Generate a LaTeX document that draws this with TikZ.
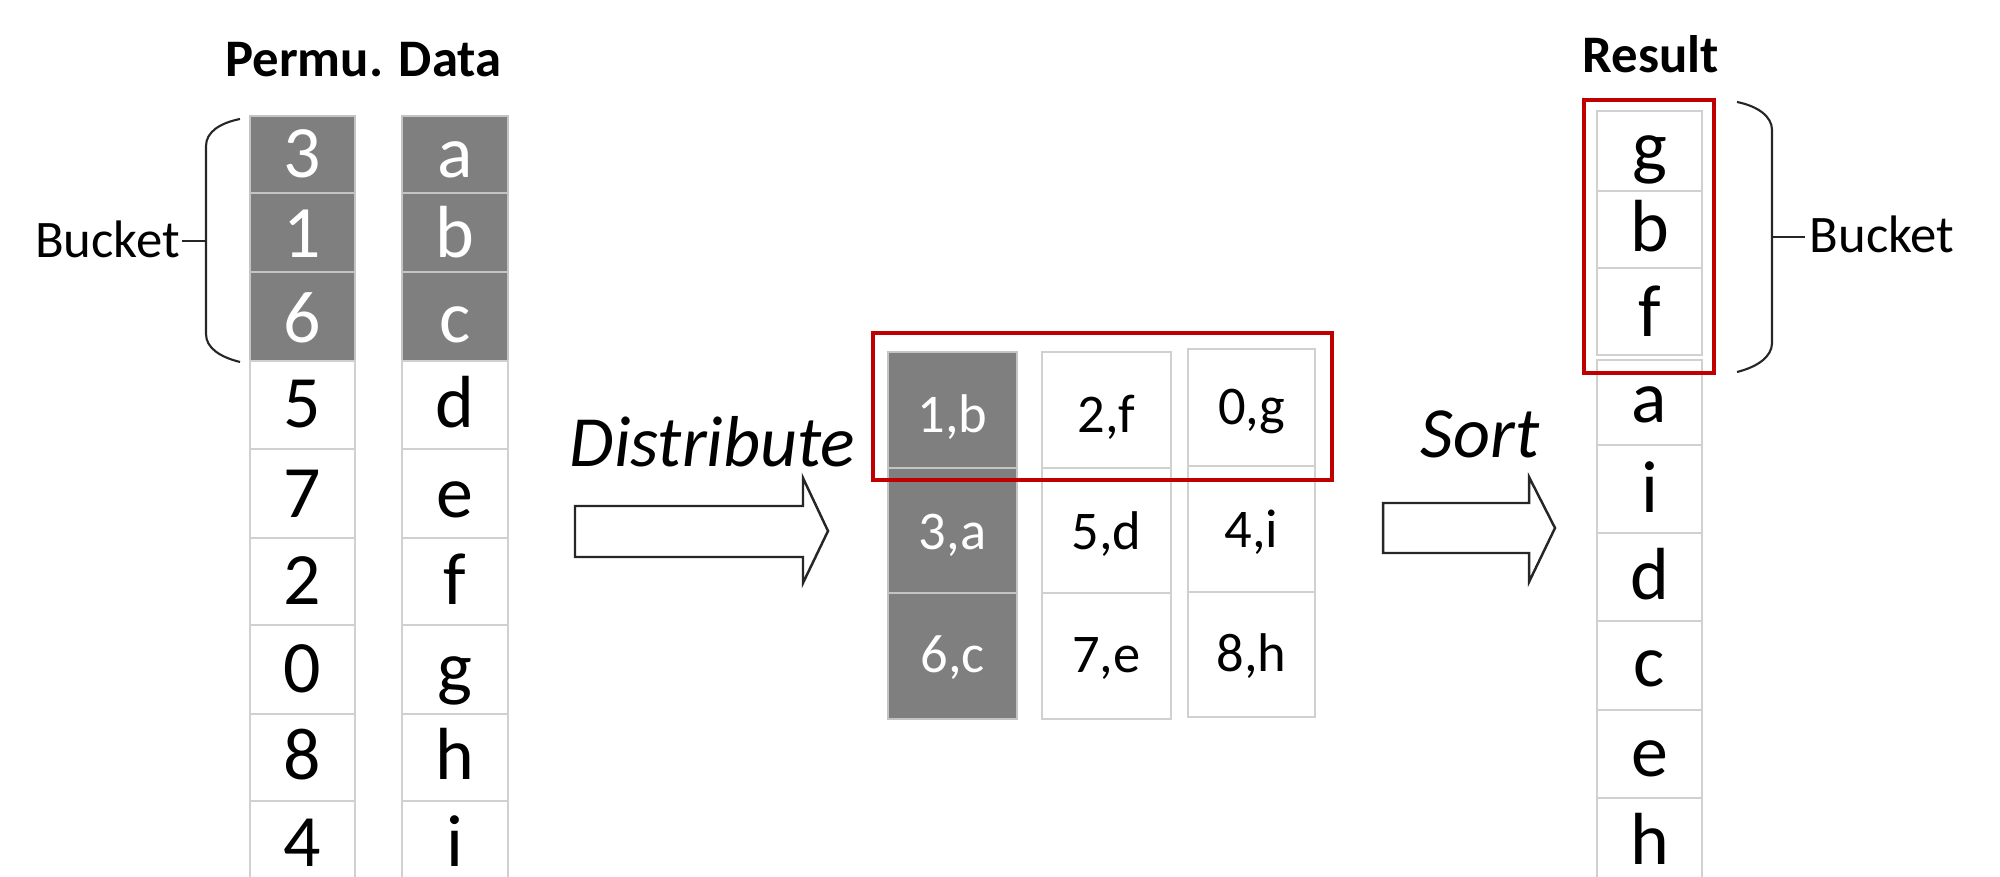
\documentclass[tikz,border=0pt]{standalone}
\usepackage{fontspec}
\setmainfont{Carlito}
\definecolor{cellgray}{HTML}{7F7F7F}
\definecolor{cellline}{HTML}{D0D0D0}
\definecolor{shadeline}{HTML}{C4C4C4}
\definecolor{boxred}{HTML}{C00000}
\definecolor{inkline}{HTML}{262626}
\begin{document}
\begin{tikzpicture}[x=0.01cm,y=-0.01cm,
  cellbox/.style={draw=cellline, line width=0.6pt, inner sep=0pt, outer sep=0pt},
  bigtxt/.style={anchor=base, inner sep=0pt, font=\fontsize{21}{25}\selectfont},
  midtxt/.style={anchor=base, inner sep=0pt, font=\fontsize{15.5}{18}\selectfont},
  headtxt/.style={anchor=base, inner sep=0pt, font=\fontsize{15}{18}\selectfont\bfseries},
  labtxt/.style={anchor=base, inner sep=0pt, font=\fontsize{15}{18}\selectfont},
  verbtxt/.style={anchor=base, inner sep=0pt, font=\fontsize{20.5}{24}\selectfont\itshape},
  redbox/.style={draw=boxred, line width=1.2pt, inner sep=0pt, outer sep=0pt},
  bracestyle/.style={draw=inkline, line width=0.6pt},
  blockarrow/.style={draw=inkline, fill=white, line width=0.7pt, line join=miter}
]
\useasboundingbox (0,0) rectangle (2000,877);
\clip (0,0) rectangle (2000,877);

% titles
\node[headtxt] (ttlL) at (363.5,77) {Permu. Data};
\node[headtxt] (ttlR) at (1651,73) {Result};

% left columns
\foreach \t/\b/\bl/\p/\d/\fc/\tc/\lc [count=\i] in {
 116/193/178/3/a/cellgray/white/shadeline,
 193/272/258/1/b/cellgray/white/shadeline,
 272/361/343/6/c/cellgray/white/shadeline,
 361/449/428/5/d/white/black/cellline,
 449/538/518/7/e/white/black/cellline,
 538/625/605/2/f/white/black/cellline,
 625/714/693/0/g/white/black/cellline,
 714/801/780/8/h/white/black/cellline,
 801/890/867/4/i/white/black/cellline}{
 \node[cellbox, draw=\lc, fill=\fc, minimum width=1.05cm, minimum height={(\b-\t)*0.01cm}] (P\i) at (302.5,{(\t+\b)/2}) {};
 \node[cellbox, draw=\lc, fill=\fc, minimum width=1.06cm, minimum height={(\b-\t)*0.01cm}] (D\i) at (455,{(\t+\b)/2}) {};
 \node[bigtxt, text=\tc] (Pt\i) at (302.5,\bl) {\p};
 \node[bigtxt, text=\tc] (Dt\i) at (455,\bl) {\d};
}

% left brace
\node[labtxt] (bktL) at (107.5,258) {Bucket};
\coordinate (brLtop) at (240,119);
\coordinate (brLbot) at (240,362);
\coordinate (brLmid) at (206,241);
\coordinate (brLtick) at (182,241);
\draw[bracestyle] (brLtop) .. controls (220,123) and (206,132) .. (206,146) -- (206,334) .. controls (206,348) and (220,357) .. (brLbot);
\draw[bracestyle] (brLmid) -- (brLtick);

% distribute
\node[verbtxt] (dist) at (712.5,467) {Distribute};
\draw[blockarrow] (575,506) -- (803,506) -- (803,478) -- (828,531) -- (803,583) -- (803,557) -- (575,557) -- cycle;

% middle block
\foreach \x/\w/\t/\b/\bl/\s/\fc/\tc/\lc [count=\i] in {
 952.5/1.29cm/352/468/433/{1,b}/cellgray/white/shadeline,
 952.5/1.29cm/468/593/550/{3,a}/cellgray/white/shadeline,
 952.5/1.29cm/593/719/673/{6,c}/cellgray/white/shadeline,
 1106.5/1.29cm/352/468/433/{2,f}/white/black/cellline,
 1106.5/1.29cm/468/593/550/{5,d}/white/black/cellline,
 1106.5/1.29cm/593/719/673/{7,e}/white/black/cellline,
 1251.5/1.27cm/349/466/425/{0,g}/white/black/cellline,
 1251.5/1.27cm/466/592/548/{4,i}/white/black/cellline,
 1251.5/1.27cm/592/717/672/{8,h}/white/black/cellline}{
 \node[cellbox, draw=\lc, fill=\fc, minimum width=\w, minimum height={(\b-\t)*0.01cm}] (M\i) at (\x,{(\t+\b)/2}) {};
 \node[midtxt, text=\tc] (Mt\i) at (\x,\bl) {\s};
}
\node[redbox, minimum width=4.59cm, minimum height=1.47cm] (hlM) at (1102.5,406.5) {};

% sort
\node[verbtxt] (sort) at (1480,458) {Sort};
\draw[blockarrow] (1383,503) -- (1529,503) -- (1529,477) -- (1555,528) -- (1529,582) -- (1529,553) -- (1383,553) -- cycle;

% result column
\foreach \t/\b/\bl/\r [count=\i] in {
 111/191/172/g, 191/268/252/b, 268/355/337/f, 360/445/423/a, 445/533/513/i,
 533/621/600/d, 621/710/687/c, 710/798/777/e, 798/886/865/h}{
 \node[cellbox, fill=white, minimum width=1.05cm, minimum height={(\b-\t)*0.01cm}] (R\i) at (1649.5,{(\t+\b)/2}) {};
 \node[bigtxt] (Rt\i) at (1649.5,\bl) {\r};
}
\node[redbox, minimum width=1.30cm, minimum height=2.73cm] (hlR) at (1649,236.5) {};

% right brace
\node[labtxt] (bktR) at (1882,253) {Bucket};
\coordinate (brRtop) at (1737,102);
\coordinate (brRbot) at (1737,372);
\coordinate (brRmid) at (1772,237);
\coordinate (brRtick) at (1805,237);
\draw[bracestyle] (brRtop) .. controls (1757,106) and (1772,116) .. (1772,130) -- (1772,343) .. controls (1772,357) and (1757,367) .. (brRbot);
\draw[bracestyle] (brRmid) -- (brRtick);
\end{tikzpicture}
\end{document}
